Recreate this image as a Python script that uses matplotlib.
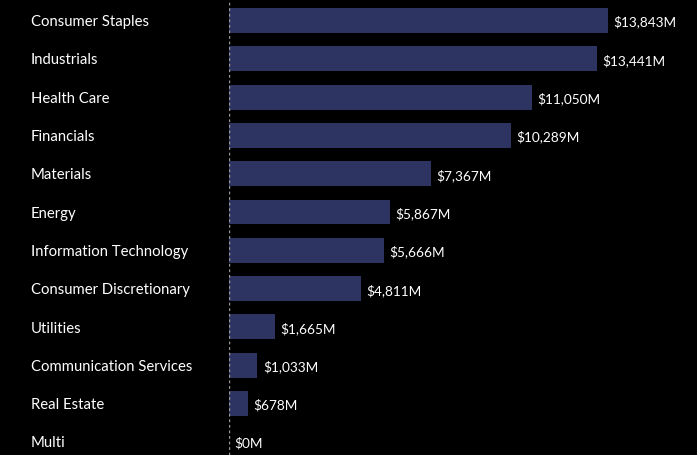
import matplotlib.pyplot as plt
from matplotlib.transforms import blended_transform_factory, offset_copy

plt.rcParams['font.family'] = ['Lato', 'DejaVu Sans']

# sector totals, $M
sectors = ["Consumer Staples", "Industrials", "Health Care", "Financials", "Materials",
           "Energy", "Information Technology", "Consumer Discretionary", "Utilities",
           "Communication Services", "Real Estate", "Multi"]
values = [13843, 13441, 11050, 10289, 7367, 5867, 5666, 4811, 1665, 1033, 678, 0]

fig = plt.figure(figsize=(6.97, 4.55), dpi=100, facecolor="black")
ax = fig.add_axes([229 / 697, 0, 468 / 697, 1], facecolor="black")

y = list(range(len(sectors)))
ax.barh(y, values, height=0.65, color="#2d3461")

# value labels just right of bar ends
for yi, v in zip(y, values):
    ax.annotate(f"${v:,}M", (v, yi), xytext=(4, -1.2), textcoords="offset points",
                color="white", va="center", ha="left", fontsize=9.8)

# category labels, left aligned at fixed pixel position
trans = offset_copy(blended_transform_factory(fig.transFigure, ax.transData),
                    fig=fig, y=-1.2, units="points")
for yi, s in zip(y, sectors):
    ax.text(31 / 697, yi, s, transform=trans, color="white", va="center", ha="left", fontsize=10.7)

ax.axvline(0, color="#999999", linestyle=(0, (2, 2)), linewidth=1)
ax.set_xlim(0, 17094)
ax.set_ylim(11.345, -0.535)
ax.set_xticks([])
ax.set_yticks([])
for sp in ax.spines.values():
    sp.set_visible(False)

fig.savefig("out.png", dpi=100, facecolor="black")
